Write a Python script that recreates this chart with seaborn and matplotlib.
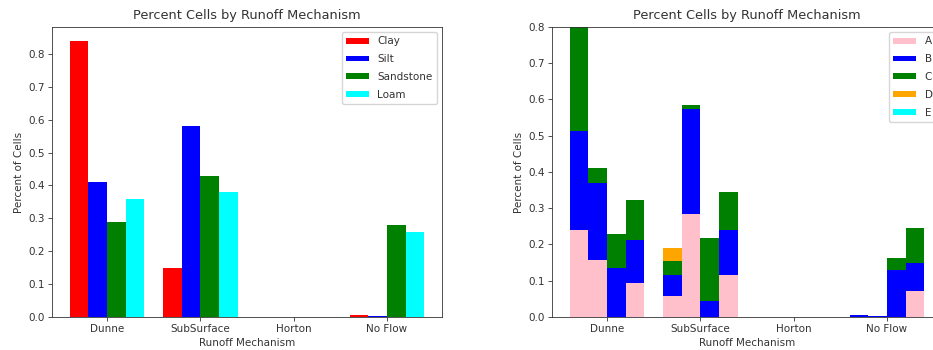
import numpy as np
import pandas as pd
import matplotlib
matplotlib.use("Agg")
import matplotlib.pyplot as plt
from matplotlib.patches import Patch
import seaborn as sns

# Runoff mechanisms and soil types
mechanisms = ["Dunne", "SubSurface", "Horton", "No Flow"]
soils = ["Clay", "Silt", "Sandstone", "Loam"]
soil_colors = ["red", "blue", "green", "cyan"]

# Fraction of cells per mechanism, one list per soil (order follows mechanisms)
clay = [0.84, 0.15, 0.0, 0.007]
silt = [0.41, 0.58, 0.0, 0.004]
sandstone = [0.29, 0.43, 0.0, 0.28]
loam = [0.36, 0.38, 0.0, 0.26]

# Hydrologic groups stacked inside each soil bar; rows = mechanisms, cols = soils
groups = ["A", "B", "C", "D", "E"]
group_colors = ["pink", "blue", "green", "orange", "cyan"]
grp_a = [[0.240, 0.157, 0.000, 0.094],
         [0.057, 0.284, 0.000, 0.117],
         [0.000, 0.000, 0.000, 0.000],
         [0.000, 0.000, 0.000, 0.072]]
grp_b = [[0.272, 0.213, 0.135, 0.118],
         [0.058, 0.289, 0.044, 0.123],
         [0.000, 0.000, 0.000, 0.000],
         [0.006, 0.003, 0.130, 0.076]]
grp_c = [[0.328, 0.040, 0.095, 0.111],
         [0.040, 0.011, 0.175, 0.105],
         [0.000, 0.000, 0.000, 0.000],
         [0.000, 0.000, 0.033, 0.097]]
grp_d = [[0.000, 0.000, 0.000, 0.000],
         [0.035, 0.000, 0.000, 0.000],
         [0.000, 0.000, 0.000, 0.000],
         [0.000, 0.000, 0.000, 0.000]]
grp_e = [[0.000, 0.000, 0.000, 0.000],
         [0.000, 0.000, 0.000, 0.000],
         [0.000, 0.000, 0.000, 0.000],
         [0.000, 0.000, 0.000, 0.000]]

s = 0.75
plt.rcParams.update({
    "font.family": ["DejaVu Sans"],
    "font.size": 7.5,
    "axes.titlesize": 9.3,
    "axes.labelsize": 7.5,
    "xtick.labelsize": 7.5,
    "ytick.labelsize": 7.5,
    "legend.fontsize": 7.5,
    "axes.linewidth": 0.8 * s,
    "xtick.major.size": 3.5 * s,
    "ytick.major.size": 3.5 * s,
    "xtick.major.width": 0.8 * s,
    "ytick.major.width": 0.8 * s,
    "xtick.major.pad": 3.5 * s,
    "ytick.major.pad": 3.5 * s,
    "axes.titlepad": 5.5,
    "axes.labelpad": 4 * s,
    "text.color": "#333333",
    "axes.labelcolor": "#333333",
    "xtick.color": "#333333",
    "ytick.color": "#333333",
    "axes.edgecolor": "#333333",
})

legend_kw = dict(loc="upper right", handlelength=2.2, handleheight=0.5,
                 labelspacing=0.75, handletextpad=0.8)

fig = plt.figure(figsize=(9.33, 3.5), dpi=100)
ax1 = fig.add_axes([0.0557, 0.0943, 0.418, 0.8286])
ax2 = fig.add_axes([0.5916, 0.0943, 0.418, 0.8286])

# Left: grouped bars by soil
soil_values = [clay, silt, sandstone, loam]
df = pd.DataFrame([
    {"mechanism": m, "soil": soil, "value": vals[i]}
    for soil, vals in zip(soils, soil_values)
    for i, m in enumerate(mechanisms)
])
sns.barplot(data=df, x="mechanism", y="value", hue="soil", order=mechanisms,
            hue_order=soils, palette=soil_colors, saturation=1, errorbar=None,
            linewidth=0, ax=ax1)
ax1.set_xlim(-0.59, 3.59)
ax1.set_ylim(0, max(clay) * 1.05)
ax1.set_title("Percent Cells by Runoff Mechanism")
ax1.set_xlabel("Runoff Mechanism")
ax1.set_ylabel("Percent of Cells")
ax1.legend(**legend_kw)

# Right: stacked hydrologic groups inside each soil bar
layers = np.array([grp_a, grp_b, grp_c, grp_d, grp_e])
cum = np.cumsum(layers, axis=0)
for k in range(len(groups) - 1, -1, -1):
    dfk = pd.DataFrame([
        {"mechanism": m, "soil": soil, "value": cum[k, i, j]}
        for j, soil in enumerate(soils)
        for i, m in enumerate(mechanisms)
    ])
    sns.barplot(data=dfk, x="mechanism", y="value", hue="soil", order=mechanisms,
                hue_order=soils, palette=[group_colors[k]] * len(soils),
                saturation=1, errorbar=None, linewidth=0, legend=False, ax=ax2)
ax2.set_xlim(-0.59, 3.59)
ax2.set_ylim(0, 0.8)
ax2.set_title("Percent Cells by Runoff Mechanism")
ax2.set_xlabel("Runoff Mechanism")
ax2.set_ylabel("Percent of Cells")
handles = [Patch(facecolor=c, label=g) for g, c in zip(groups, group_colors)]
ax2.legend(handles=handles, **legend_kw)

fig.savefig("out.png", dpi=100)
